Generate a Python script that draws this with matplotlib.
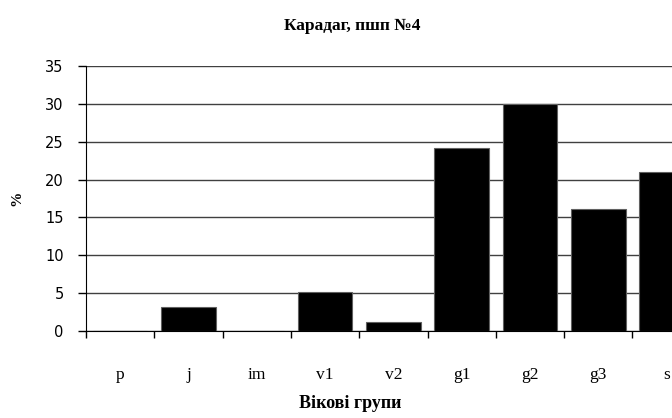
import matplotlib
matplotlib.use("Agg")
import matplotlib.pyplot as plt
import numpy as np

categories = ["p", "j", "im", "v1", "v2", "g1", "g2", "g3", "s"]
values = [0, 3.2, 0, 5.1, 1.2, 24.2, 30.0, 16.1, 21.0]
yticks = [0, 5, 10, 15, 20, 25, 30, 35]

fig = plt.figure(figsize=(6.72, 4.18), dpi=100)
ax = fig.add_axes([86/672, 87/418, 1 - 86/672, 265/418])

x = np.arange(len(categories))
ax.bar(x, values, width=0.8, color="black", edgecolor="#606060", linewidth=0.8, zorder=3)

ax.set_yticks(yticks)
ax.set_yticklabels([str(t) for t in yticks], fontfamily="DejaVu Sans", fontsize=10.5)
ax.yaxis.grid(True, color="#404040", linewidth=1.0, zorder=0)

ax.set_xticks(np.arange(len(categories) + 1) - 0.5)
ax.set_xticklabels([])
ax.set_xticks(x, minor=True)
ax.set_xticklabels(categories, minor=True, fontfamily="Liberation Serif", fontsize=12.5)
ax.tick_params(axis="x", which="minor", length=0, pad=26)
ax.tick_params(axis="x", which="major", length=5, direction="out", width=1)
ax.tick_params(axis="y", length=6, direction="out", width=1, pad=10)

ax.set_ylim(0, 35)
ax.set_xlim(-0.5, (672 - 86) / 68.3 - 0.5)

for s in ["top", "right"]:
    ax.spines[s].set_visible(False)
ax.spines["left"].set_color("black")
ax.spines["bottom"].set_color("black")

ax.set_xlabel("Вікові групи", fontfamily="Liberation Serif", fontsize=13, fontweight="bold")
ax.xaxis.set_label_coords((350 - 86) / 586, -(395 - 331) / 265)
ax.set_ylabel("%", fontfamily="Liberation Serif", fontsize=11, fontweight="bold")
ax.yaxis.set_label_coords(-(86 - 23) / 586, 0.5)
fig.text(352 / 672, 1 - 26/418, "Карадаг, пшп №4", ha="center", va="center",
         fontfamily="Liberation Serif", fontsize=12.5, fontweight="bold")

fig.savefig("out.png", dpi=100)
